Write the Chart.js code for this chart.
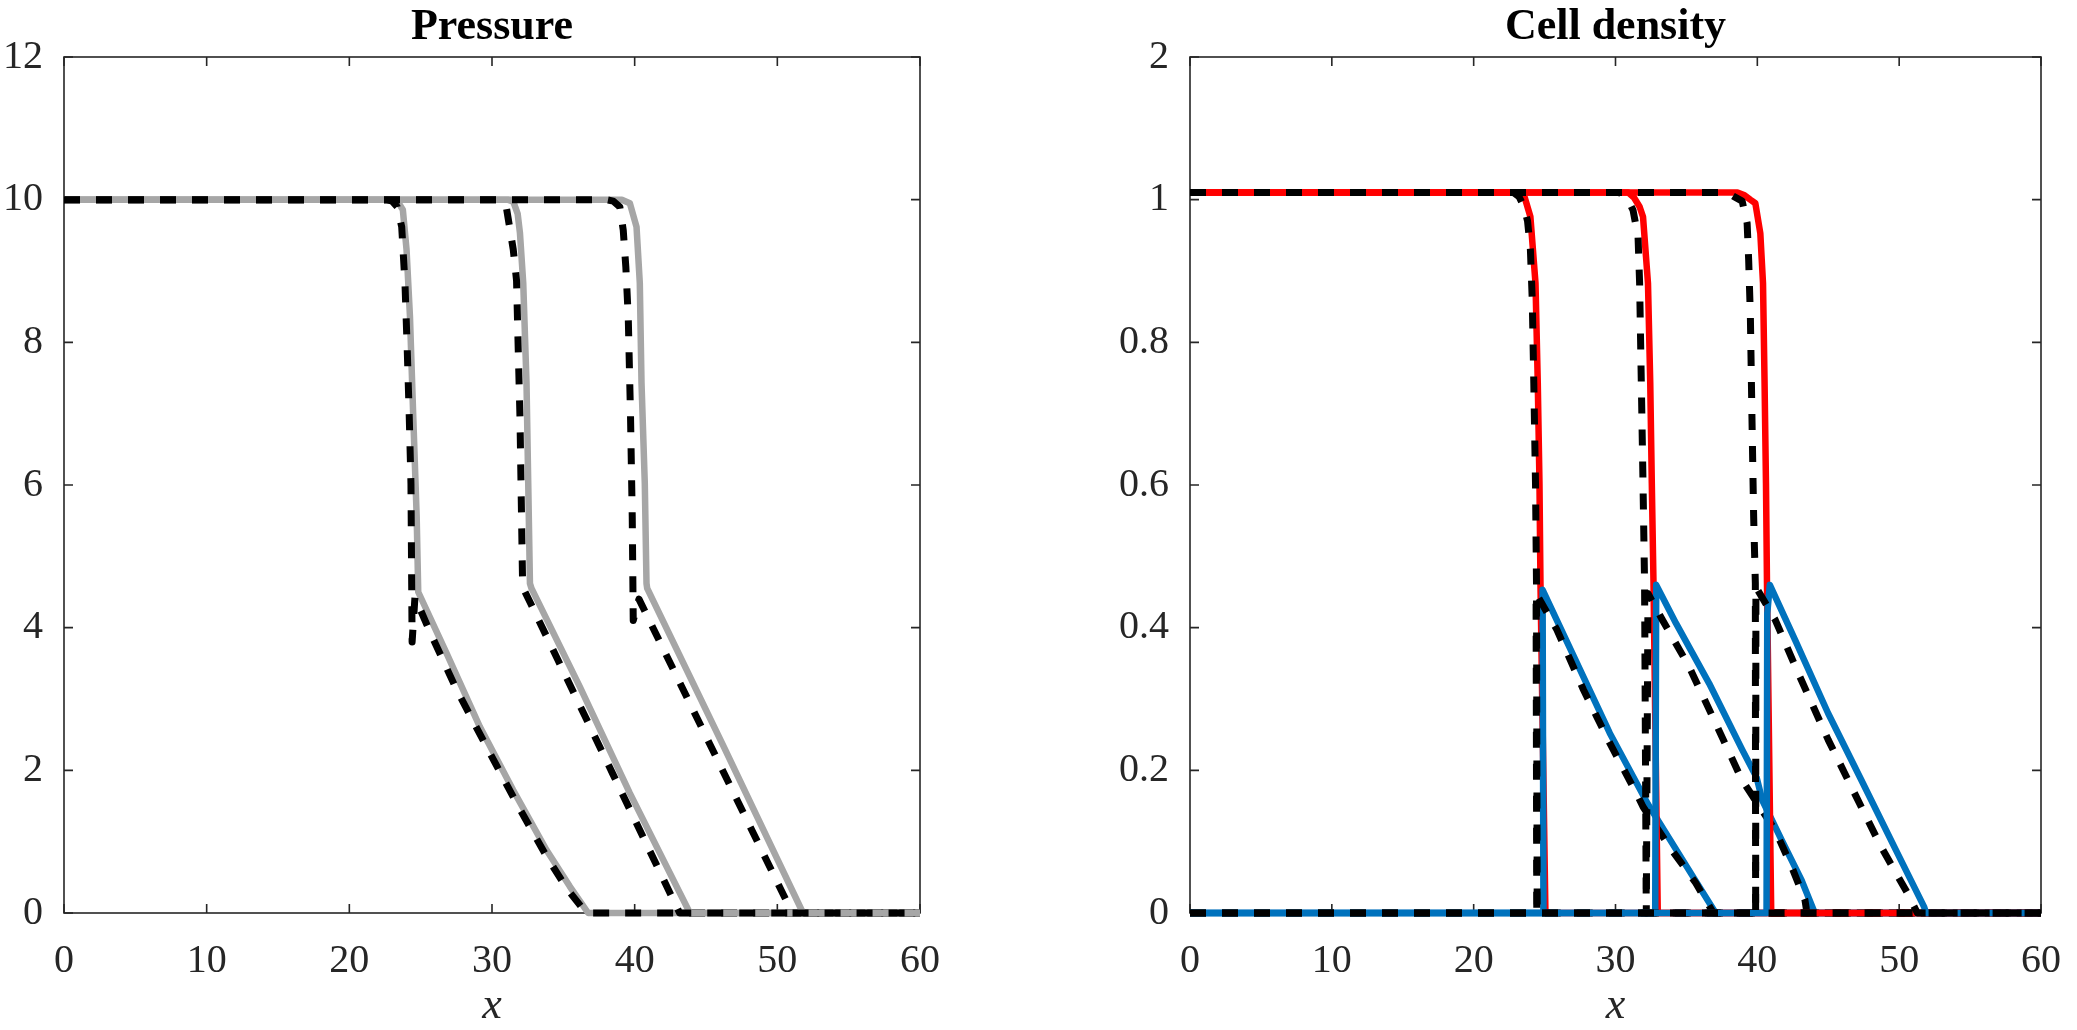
<!DOCTYPE html>
<html>
<head>
<meta charset="utf-8">
<title>Pressure and cell density</title>
<script src="https://cdn.jsdelivr.net/npm/chart.js"></script>
<style>
  body { margin: 0; background: #fff; }
  #pressureChart { position: absolute; left: 0; top: 0; }
  #densityChart { position: absolute; left: 1040px; top: 0; }
</style>
</head>
<body>
<canvas id="pressureChart" width="1000" height="1030"></canvas>
<canvas id="densityChart" width="1037" height="1030"></canvas>
<script>
// x ticks shared by both panels
const xTicks = [0, 10, 20, 30, 40, 50, 60];
const pressureTicks = ['0', '2', '4', '6', '8', '10', '12'];
const densityTicks = ['0', '0.2', '0.4', '0.6', '0.8', '1', '2'];

// Pressure: numerical (grey) and exact (black dashed), three times
const pGray1 = [[0,10],[22.95,10],[23.4,9.97],[23.75,9.86],[24.01,9.3],[24.25,8.36],[24.48,6.96],[24.72,5.56],[24.83,4.5],[26.82,3.64],[29.15,2.61],[31.49,1.72],[33.83,0.88],[35.46,0.37],[36.74,0],[60,0]];
const pBlack1 = [[0,10],[22.6,10],[23.0,9.98],[23.35,9.9],[23.67,9.62],[23.9,8.83],[24.06,7.89],[24.2,6.96],[24.32,6.02],[24.37,4.62],[24.4,3.8],[24.6,4.43],[25.65,3.94],[27.52,3.13],[29.62,2.33],[31.72,1.54],[33.83,0.79],[35.22,0.35],[36.6,0],[60,0]];
const pGray2 = [[0,10],[31.1,10],[31.5,9.97],[31.8,9.8],[31.96,9.53],[32.19,8.83],[32.42,7.42],[32.54,6.02],[32.66,4.62],[32.77,4.55],[36.16,3.17],[39.66,1.68],[43.87,0],[60,0]];
const pBlack2 = [[0,10],[30.5,10],[30.8,9.97],[31.0,9.9],[31.49,9.3],[31.72,8.87],[31.84,7.89],[31.96,6.96],[32.07,5.56],[32.14,4.67],[32.2,4.55],[34.76,3.49],[38.49,1.94],[43.15,0],[60,0]];
const pGray3 = [[0,10],[39.1,10],[39.66,9.95],[40.13,9.62],[40.36,8.83],[40.48,7.43],[40.71,6.02],[40.83,4.62],[40.88,4.55],[46.25,2.33],[51.8,0],[60,0]];
const pBlack3 = [[0,10],[38.0,10],[38.5,9.98],[38.96,9.9],[39.2,9.57],[39.38,9.06],[39.55,8.36],[39.71,6.96],[39.83,5.56],[39.9,4.1],[40.3,4.4],[45.7,2.19],[51.05,0],[60,0]];

// Cell density: red and blue numerical, black dashed exact
const dRed1 = [[0,1.01],[23.2,1.01],[23.6,1.003],[24.0,0.976],[24.36,0.883],[24.52,0.743],[24.64,0.602],[24.71,0.462],[25.06,0],[60,0]];
const dBlue1 = [[0,0],[24.92,0],[24.86,0.453],[29.6,0.252],[32.3,0.152],[35.43,0.052],[37.06,0],[60,0]];
const dExRed1 = [[0,1.01],[22.8,1.01],[23.2,1.004],[23.55,0.99],[23.8,0.97],[24.0,0.93],[24.13,0.86],[24.24,0.743],[24.36,0.602],[24.43,0.462],[24.48,0],[60,0]];
const dExBlue1 = [[0,0],[24.45,0],[24.4,0.448],[25.87,0.397],[27.74,0.313],[29.6,0.238],[31.47,0.168],[31.94,0.149],[33.8,0.093],[35.66,0.042],[36.9,0],[60,0]];
const dRed2 = [[0,1.01],[30.9,1.01],[31.3,1.003],[31.7,0.99],[31.94,0.976],[32.29,0.883],[32.45,0.743],[32.56,0.602],[32.68,0.462],[32.98,0],[60,0]];
const dBlue2 = [[0,0],[32.8,0],[32.87,0.46],[34.27,0.406],[36.6,0.322],[38.93,0.229],[39.95,0.19],[40.35,0.158],[41.72,0.102],[43.12,0.046],[44.05,0],[60,0]];
const dExRed2 = [[0,1.01],[30.3,1.01],[30.7,1.003],[31.0,0.995],[31.24,0.985],[31.59,0.948],[31.7,0.883],[31.82,0.743],[31.94,0.602],[32.05,0.462],[32.17,0],[60,0]];
const dExBlue2 = [[0,0],[32.17,0],[32.29,0.448],[33.33,0.41],[35.2,0.345],[37.06,0.266],[38.93,0.186],[39.86,0.158],[41.26,0.116],[42.42,0.065],[43.36,0.018],[43.5,0],[60,0]];
const dRed3 = [[0,1.01],[38.6,1.01],[39.1,1.006],[39.5,1.0],[39.86,0.995],[40.21,0.953],[40.4,0.883],[40.51,0.743],[40.61,0.602],[40.68,0.462],[40.98,0],[60,0]];
const dBlue3 = [[0,0],[40.65,0],[40.7,0.42],[40.88,0.46],[42.66,0.383],[44.99,0.28],[47.34,0.186],[49.65,0.093],[51.75,0.009],[51.9,0],[60,0]];
const dExRed3 = [[0,1.01],[37.9,1.01],[38.3,1.005],[38.93,0.998],[39.28,0.967],[39.39,0.915],[39.51,0.836],[39.62,0.696],[39.74,0.556],[39.86,0.462],[39.88,0],[60,0]];
const dExBlue3 = [[0,0],[39.88,0],[39.9,0.457],[41.26,0.411],[42.89,0.336],[44.99,0.243],[46.85,0.168],[48.72,0.093],[50.58,0.028],[51.28,0],[60,0]];

const GRAY = '#a6a6a6';
const RED = '#ff0000';
const BLUE = '#0072bd';
const BLACK = '#000000';
const AXIS = '#262626';
const TICK_LEN = 9;

// box round the plot with inward ticks on all four sides
const boxTicks = {
    id: 'boxTicks',
    beforeDatasetsDraw(chart) {
        const ctx = chart.ctx;
        const a = chart.chartArea;
        const xs = chart.scales.x;
        const ys = chart.scales.y;
        ctx.save();
        ctx.strokeStyle = AXIS;
        ctx.lineWidth = 1.6;
        ctx.strokeRect(a.left, a.top, a.right - a.left, a.bottom - a.top);
        ctx.beginPath();
        xs.ticks.forEach(t => {
            let px = xs.getPixelForValue(t.value);
            ctx.moveTo(px, a.bottom); ctx.lineTo(px, a.bottom - TICK_LEN);
            ctx.moveTo(px, a.top); ctx.lineTo(px, a.top + TICK_LEN);
        });
        ys.ticks.forEach(t => {
            let py = ys.getPixelForValue(t.value);
            ctx.moveTo(a.left, py); ctx.lineTo(a.left + TICK_LEN, py);
            ctx.moveTo(a.right, py); ctx.lineTo(a.right - TICK_LEN, py);
        });
        ctx.stroke();
        ctx.restore();
    }
};

function series(points, color, dashed) {
    return {
        data: points.map(p => ({ x: p[0], y: p[1] })),
        borderColor: color,
        borderWidth: dashed ? 7 : 6.5,
        borderDash: dashed ? [16, 16] : [],
        borderJoinStyle: 'round',
        pointRadius: 0,
        tension: 0,
        fill: false,
        clip: false
    };
}

function makeChart(id, title, datasets, yMax, yStep, yLabels, yWidth, padRight) {
    const ctx = document.getElementById(id).getContext('2d');
    // chart.js paints the first dataset last, so flip the list to keep plot order
    datasets.reverse();
    return new Chart(ctx, {
        type: 'line',
        data: { datasets: datasets },
        options: {
            responsive: false,
            animation: false,
            events: [],
            layout: { padding: { left: 0, right: padRight, top: 0, bottom: 0 } },
            plugins: {
                legend: { display: false },
                tooltip: { enabled: false },
                title: {
                    display: true,
                    text: title,
                    fullSize: false,
                    color: '#000',
                    font: { family: 'Liberation Serif', size: 44, weight: 'bold', lineHeight: 1.2 },
                    padding: { top: 1, bottom: 3.2 }
                }
            },
            scales: {
                x: {
                    type: 'linear',
                    min: 0,
                    max: 60,
                    grid: { display: false },
                    border: { display: false },
                    afterBuildTicks: s => { s.ticks = xTicks.map(v => ({ value: v })); },
                    ticks: {
                        color: AXIS,
                        padding: 16,
                        maxRotation: 0,
                        font: { family: 'Liberation Serif', size: 40, lineHeight: 1.2 },
                        callback: v => String(v)
                    },
                    title: {
                        display: true,
                        text: 'x',
                        color: AXIS,
                        font: { family: 'Liberation Serif', size: 44, style: 'italic', lineHeight: 1.0 },
                        padding: { top: 0, bottom: 2 }
                    },
                    afterFit: s => { s.height = 117; }
                },
                y: {
                    type: 'linear',
                    min: 0,
                    max: yMax,
                    grid: { display: false },
                    border: { display: false },
                    ticks: {
                        stepSize: yStep,
                        color: AXIS,
                        padding: 13,
                        font: { family: 'Liberation Serif', size: 40 },
                        callback: (v, i) => yLabels[i]
                    },
                    afterFit: s => { s.width = yWidth; }
                }
            }
        },
        plugins: [boxTicks]
    });
}

makeChart('pressureChart', 'Pressure', [
    series(pGray1, GRAY, false), series(pBlack1, BLACK, true),
    series(pGray2, GRAY, false), series(pBlack2, BLACK, true),
    series(pGray3, GRAY, false), series(pBlack3, BLACK, true)
], 12, 2, pressureTicks, 64, 80);

makeChart('densityChart', 'Cell density', [
    series(dRed1, RED, false), series(dBlue1, BLUE, false),
    series(dExRed1, BLACK, true), series(dExBlue1, BLACK, true),
    series(dRed2, RED, false), series(dBlue2, BLUE, false),
    series(dExRed2, BLACK, true), series(dExBlue2, BLACK, true),
    series(dRed3, RED, false), series(dBlue3, BLUE, false),
    series(dExRed3, BLACK, true), series(dExBlue3, BLACK, true)
], 1.2, 0.2, densityTicks, 150, 30);
</script>
</body>
</html>
